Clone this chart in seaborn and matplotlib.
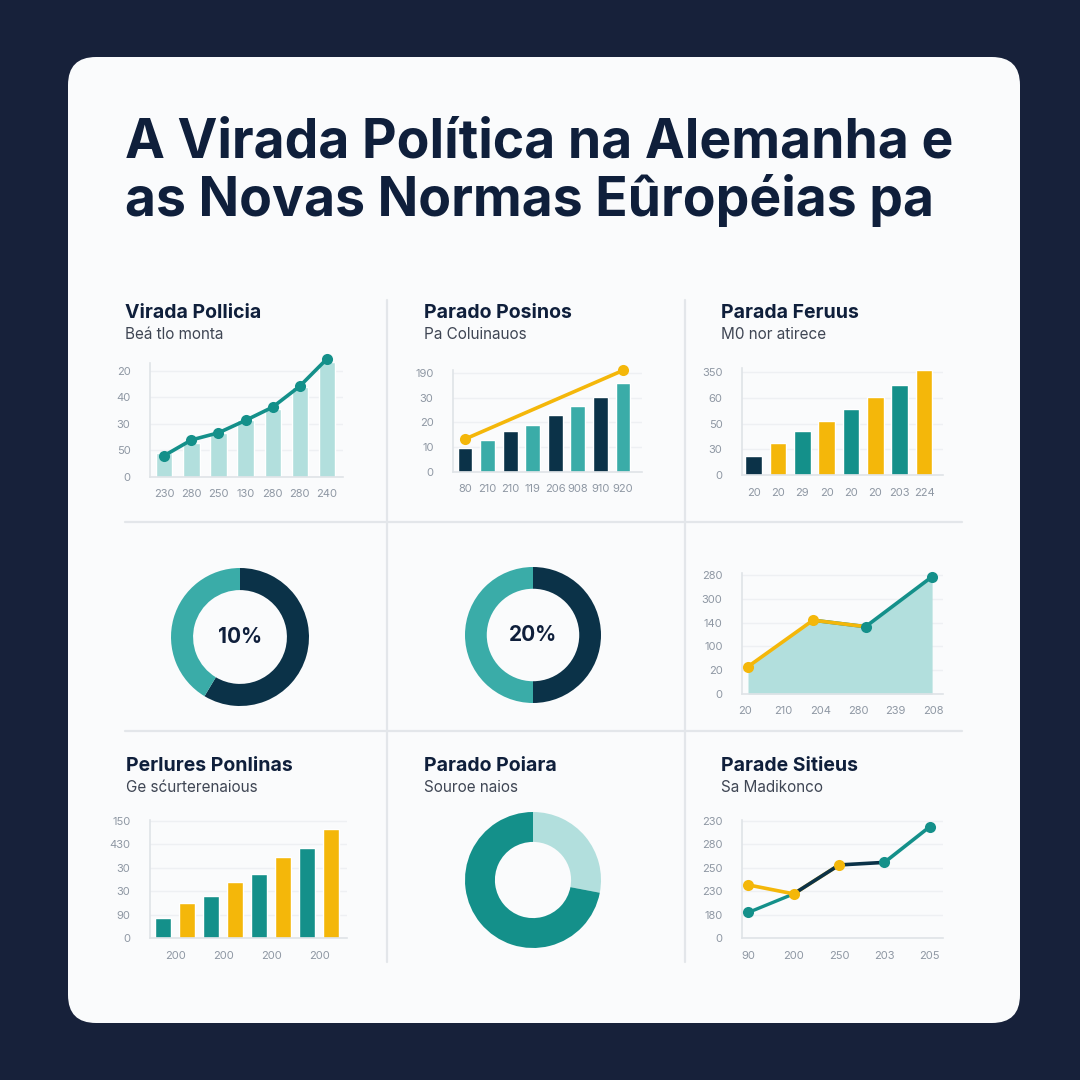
import matplotlib
matplotlib.use("Agg")
import matplotlib.pyplot as plt
import pandas as pd
import seaborn as sns
from matplotlib.patches import FancyBboxPatch
from matplotlib.lines import Line2D

W = H = 1080

# ---- data ----
title_lines = ["A Virada Política na Alemanha e", "as Novas Normas Eûropéias pa"]

p1_title, p1_sub = "Virada Pollicia", "Beá tlo monta"
p1_bars = [0.9, 1.26, 1.64, 2.13, 2.57, 3.38, 4.32]
p1_line = [0.8, 1.39, 1.66, 2.13, 2.63, 3.42, 4.45]
p1_xlabels = ["230", "280", "250", "130", "280", "280", "240"]
p1_ylabels = ["0", "50", "30", "40", "20"]

p2_title, p2_sub = "Parado Posinos", "Pa Coluinauos"
p2_bars = [0.95, 1.28, 1.63, 1.89, 2.28, 2.67, 3.04, 3.6]
p2_line_x = [0, 7]
p2_line_y = [1.32, 4.1]
p2_xlabels = ["80", "210", "210", "119", "206", "908", "910", "920"]
p2_ylabels = ["0", "10", "20", "30", "190"]

p3_title, p3_sub = "Parada Feruus", "M0 nor atirece"
p3_bars = [0.75, 1.26, 1.7, 2.1, 2.56, 3.05, 3.5, 4.07]
p3_xlabels = ["20", "20", "29", "20", "20", "20", "203", "224"]
p3_ylabels = ["0", "30", "50", "60", "350"]

d1_vals, d1_label = [58.6, 41.4], "10%"
d2_vals, d2_label = [50, 50], "20%"

p6_x = [0.07, 1.8, 3.2, 4.97]
p6_y = [1.15, 3.1, 2.83, 4.93]
p6_xlabels = ["20", "210", "204", "280", "239", "208"]
p6_ylabels = ["0", "20", "100", "140", "300", "280"]

p7_title, p7_sub = "Perlures Ponlinas", "Ge sćurterenaious"
p7_bars = [0.88, 1.49, 1.8, 2.41, 2.72, 3.47, 3.83, 4.66]
p7_xlabels = ["200", "200", "200", "200"]
p7_ylabels = ["0", "90", "30", "30", "430", "150"]

p8_title, p8_sub = "Parado Poiara", "Souroe naios"
d3_vals = [28, 72]

p9_title, p9_sub = "Parade Sitieus", "Sa Madikonco"
p9_yellow = [2.27, 1.89, 3.12]
p9_teal_a = [1.1, 1.89]
p9_navy = [1.89, 3.12, 3.23]
p9_teal_b = [3.23, 4.75]
p9_xlabels = ["90", "200", "250", "203", "205"]
p9_ylabels = ["0", "180", "230", "250", "280", "230"]

# ---- colours ----
BG = "#17213a"
CARD = "#fafbfc"
INK = "#0f1f3b"
NAVY = "#0b3248"
TEAL = "#3aaca8"
DTEAL = "#14908a"
LTEAL = "#b2dfdd"
YEL = "#f4b70a"
TICK = "#8e97a3"

sns.set_theme(style="white")
plt.rcParams["font.family"] = ["Inter", "DejaVu Sans"]

fig = plt.figure(figsize=(W / 100, H / 100), dpi=100, facecolor=BG)


def rect(x0, y0, x1, y1):
    return [x0 / W, 1 - y1 / H, (x1 - x0) / W, (y1 - y0) / H]


def ftext(x, y, s, **kw):
    fig.text(x / W, 1 - y / H, s, va="baseline", ha=kw.pop("ha", "left"), **kw)


card = FancyBboxPatch((68 / W, 1 - 1023 / H), (1020 - 68) / W, (1023 - 57) / H,
                      boxstyle="round,pad=0,rounding_size=0.026",
                      transform=fig.transFigure, facecolor=CARD, edgecolor="none", zorder=-5)
fig.patches.append(card)

ftext(125, 157, title_lines[0], fontsize=38.5, fontweight="bold", color=INK)
ftext(125, 216, title_lines[1], fontsize=38.5, fontweight="bold", color=INK)

# separators
for x in (387, 685):
    fig.add_artist(Line2D([x / W, x / W], [1 - 300 / H, 1 - 962 / H], color="#e3e6ea", lw=1.6, zorder=-1))
for y in (522, 731):
    fig.add_artist(Line2D([125 / W, 962 / W], [1 - y / H, 1 - y / H], color="#e3e6ea", lw=1.6, zorder=-1))


def heading(x, y, t, s):
    ftext(x, y, t, fontsize=14, fontweight="bold", color=INK)
    ftext(x, y + 21, s, fontsize=11, color="#3f4654")


def style(ax, ylabels, xticks, xlabels, xlim, ylim):
    ax.set_facecolor("none")
    sns.despine(ax=ax)
    for sp in ("left", "bottom"):
        ax.spines[sp].set_color("#dfe3e7")
        ax.spines[sp].set_linewidth(1.2)
    ax.set_yticks(range(len(ylabels)))
    ax.set_yticklabels(ylabels)
    ax.set_xticks(xticks)
    ax.set_xticklabels(xlabels)
    ax.yaxis.grid(True, color="#eef0f3", lw=1)
    ax.set_axisbelow(True)
    ax.tick_params(length=0, labelsize=8, colors=TICK, pad=9)
    ax.tick_params(axis="y", pad=14)
    ax.set_xlim(*xlim)
    ax.set_ylim(*ylim)
    ax.set_xlabel("")
    ax.set_ylabel("")


def bars(ax, vals, colors, width):
    df = pd.DataFrame({"i": range(len(vals)), "v": vals})
    sns.barplot(data=df, x="i", y="v", hue="i", palette=colors, width=width,
                saturation=1, legend=False, ax=ax)


def donut(box, vals, colors, width, label=None):
    ax = fig.add_axes(rect(*box))
    ax.pie(vals, colors=colors, startangle=90, counterclock=False, radius=1,
           wedgeprops=dict(width=width, linewidth=0))
    ax.set_xlim(-1, 1)
    ax.set_ylim(-1, 1)
    ax.set_aspect("equal")
    ax.axis("off")
    if label:
        ax.text(0, 0, label, ha="center", va="center", fontsize=15, fontweight="bold", color=INK)


# panel 1
heading(125, 318, p1_title, p1_sub)
ax = fig.add_axes(rect(150, 363, 343, 476.7))
bars(ax, p1_bars, [LTEAL] * 7, 0.6)
sns.lineplot(x=list(range(7)), y=p1_line, ax=ax, color=DTEAL, lw=2.6, marker="o",
             markersize=8, markeredgewidth=0, clip_on=False, zorder=5)
style(ax, p1_ylabels, range(7), p1_xlabels, (-0.53, 6.6), (0, 4.3))

# panel 2
heading(424, 318, p2_title, p2_sub)
ax = fig.add_axes(rect(453, 370.4, 642, 471.7))
bars(ax, p2_bars, [NAVY, TEAL] * 4, 0.66)
sns.lineplot(x=p2_line_x, y=p2_line_y, ax=ax, color=YEL, lw=2.6, marker="o",
             markersize=8, markeredgewidth=0, clip_on=False, zorder=5)
style(ax, p2_ylabels, range(8), p2_xlabels, (-0.53, 7.84), (0, 4.1))

# panel 3
heading(721, 318, p3_title, p3_sub)
ax = fig.add_axes(rect(742, 368.3, 943, 475))
bars(ax, p3_bars, [NAVY, YEL, DTEAL, YEL, DTEAL, YEL, DTEAL, YEL], 0.68)
style(ax, p3_ylabels, range(8), p3_xlabels, (-0.48, 7.78), (0, 4.15))

# donuts middle row
donut((171, 568, 309, 706), d1_vals, [NAVY, TEAL], 0.32, d1_label)
donut((465, 567, 601, 703), d2_vals, [NAVY, TEAL], 0.32, d2_label)

# panel 6 area
ax = fig.add_axes(rect(742, 572.6, 943, 694))
ax.fill_between(p6_x, p6_y, color=LTEAL, lw=0, zorder=1)
sns.lineplot(x=p6_x[1:], y=p6_y[1:], ax=ax, color=DTEAL, lw=2.6, zorder=3)
sns.lineplot(x=p6_x[:3], y=p6_y[:3], ax=ax, color=YEL, lw=2.6, zorder=4)
ax.plot(p6_x[:2], p6_y[:2], "o", color=YEL, ms=8, mew=0, zorder=6, clip_on=False)
ax.plot(p6_x[2:], p6_y[2:], "o", color=DTEAL, ms=8, mew=0, zorder=6, clip_on=False)
style(ax, p6_ylabels, range(6), p6_xlabels, (-0.09, 5.26), (0, 5.1))

# panel 7
heading(126, 771, p7_title, p7_sub)
ax = fig.add_axes(rect(150, 819.6, 347, 938.3))
bars(ax, p7_bars, [DTEAL, YEL] * 4, 0.66)
style(ax, p7_ylabels, [0.5, 2.5, 4.5, 6.5], p7_xlabels, (-0.55, 7.66), (0, 5.05))

# panel 8
heading(424, 771, p8_title, p8_sub)
donut((465, 812, 601, 948), d3_vals, [LTEAL, DTEAL], 0.44)

# panel 9
heading(721, 771, p9_title, p9_sub)
ax = fig.add_axes(rect(742, 819.6, 943, 938.3))
sns.lineplot(x=[0, 1], y=p9_teal_a, ax=ax, color=DTEAL, lw=2.4, zorder=3)
sns.lineplot(x=[1, 2, 3], y=p9_navy, ax=ax, color=NAVY, lw=2.6, zorder=3)
sns.lineplot(x=[3, 4], y=p9_teal_b, ax=ax, color=DTEAL, lw=2.6, zorder=3)
sns.lineplot(x=[0, 1, 2], y=p9_yellow, ax=ax, color=YEL, lw=2.6, zorder=4)
ax.plot([0, 1, 2], p9_yellow, "o", color=YEL, ms=8, mew=0, zorder=6, clip_on=False)
ax.plot([0, 3, 4], [p9_teal_a[0]] + p9_teal_b, "o", color=DTEAL, ms=8, mew=0, zorder=6, clip_on=False)
ax.lines[1].set_zorder(4.5)
style(ax, p9_ylabels, range(5), p9_xlabels, (-0.14, 4.29), (0, 5.05))

fig.savefig("out.png", dpi=100, facecolor=BG)
